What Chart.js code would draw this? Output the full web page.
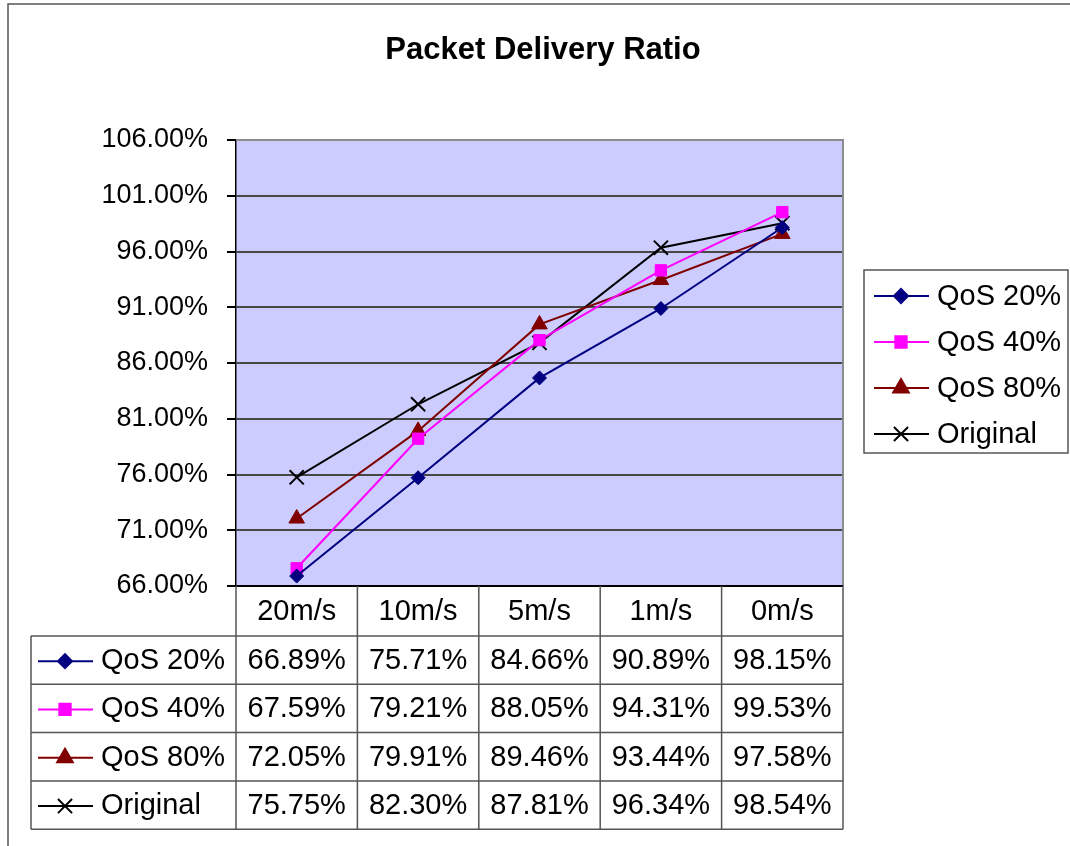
<!DOCTYPE html>
<html>
<head>
<meta charset="utf-8">
<script src="https://cdn.jsdelivr.net/npm/chart.js@4/dist/chart.umd.min.js"></script>
<style>
  html, body { margin: 0; padding: 0; background: #fff; }
  #wrap { width: 1070px; height: 846px; }
</style>
</head>
<body>
<div id="wrap"><canvas id="grafica"></canvas></div>
<script>
// datos de la grafica
const categorias = ['20m/s', '10m/s', '5m/s', '1m/s', '0m/s'];
const qos20 = [66.89, 75.71, 84.66, 90.89, 98.15];
const qos40 = [67.59, 79.21, 88.05, 94.31, 99.53];
const qos80 = [72.05, 79.91, 89.46, 93.44, 97.58];
const original = [75.75, 82.30, 87.81, 96.34, 98.54];
const ticksY = [66, 71, 76, 81, 86, 91, 96, 101, 106];
const titulo = 'Packet Delivery Ratio';

const fuente = '"Liberation Sans", Arial, Helvetica, sans-serif';

// dibuja la linea + marcador (leyenda y tabla)
function dibujarMuestra(ctx, ds, cx, cy) {
    ctx.save();
    ctx.strokeStyle = ds.borderColor;
    ctx.lineWidth = 2;
    ctx.beginPath();
    ctx.moveTo(cx - 27, cy);
    ctx.lineTo(cx + 28, cy);
    ctx.stroke();
    ctx.fillStyle = ds.pointBackgroundColor;
    ctx.strokeStyle = ds.pointBorderColor;
    Chart.helpers.drawPoint(ctx, {
        pointStyle: ds.pointStyle,
        radius: ds.pointRadius,
        rotation: 0,
        borderWidth: ds.pointBorderWidth
    }, cx, cy);
    ctx.restore();
}

const pluginExtra = {
    id: 'extra',
    beforeDraw(chart) {
        const { ctx, chartArea: a } = chart;
        ctx.save();
        ctx.fillStyle = '#fff';
        ctx.fillRect(0, 0, chart.width, chart.height);
        ctx.fillStyle = '#CCCCFF';
        ctx.fillRect(a.left, a.top, a.right - a.left, a.bottom - a.top);
        ctx.restore();
    },
    beforeDatasetsDraw(chart) {
        const { ctx, chartArea: a } = chart;
        ctx.save();
        ctx.strokeStyle = '#8c8c8c';
        ctx.lineWidth = 2;
        ctx.beginPath();
        ctx.moveTo(a.left, a.top);
        ctx.lineTo(a.right, a.top);
        ctx.lineTo(a.right, a.bottom);
        ctx.stroke();
        ctx.strokeStyle = '#000';
        ctx.beginPath();
        ctx.moveTo(a.left, a.bottom);
        ctx.lineTo(a.right, a.bottom);
        ctx.stroke();
        ctx.restore();
    },
    afterDraw(chart) {
        const { ctx, chartArea: a } = chart;
        const xs = chart.scales.x;
        const dsets = chart.data.datasets;
        ctx.save();

        // marco exterior
        ctx.strokeStyle = '#555';
        ctx.lineWidth = 1.5;
        ctx.strokeRect(8, 4, 1200, 1200);

        // titulo
        ctx.fillStyle = '#000';
        ctx.font = 'bold 31px ' + fuente;
        ctx.textAlign = 'center';
        ctx.textBaseline = 'middle';
        ctx.fillText(titulo, 543, 50);

        // leyenda
        ctx.strokeStyle = '#555';
        ctx.lineWidth = 1.5;
        ctx.strokeRect(864, 270, 204, 183);
        ctx.font = '29px ' + fuente;
        ctx.textAlign = 'left';
        dsets.forEach((ds, i) => {
            const y = 296 + i * 46;
            dibujarMuestra(ctx, ds, 901, y);
            ctx.fillStyle = '#000';
            ctx.fillText(ds.label, 937, y + 1);
        });

        // tabla de datos
        const n = categorias.length;
        const w = (a.right - a.left) / n;
        const yTop = a.bottom;
        const yHead = yTop + 50;
        const altoFila = 48.3;
        const yBottom = yHead + altoFila * dsets.length;
        const xIzq = 31;

        ctx.strokeStyle = '#555';
        ctx.lineWidth = 1.5;
        ctx.beginPath();
        for (let k = 0; k <= n; k++) {
            const x = a.left + k * w;
            ctx.moveTo(x, yTop);
            ctx.lineTo(x, yBottom);
        }
        ctx.moveTo(xIzq, yHead);
        ctx.lineTo(xIzq, yBottom);
        for (let r = 0; r <= dsets.length; r++) {
            const y = yHead + r * altoFila;
            ctx.moveTo(xIzq, y);
            ctx.lineTo(a.right, y);
        }
        ctx.stroke();

        ctx.fillStyle = '#000';
        ctx.font = '29px ' + fuente;
        ctx.textAlign = 'center';
        categorias.forEach((c, i) => {
            ctx.fillText(c, xs.getPixelForValue(i), yTop + 26);
        });
        dsets.forEach((ds, r) => {
            const yc = yHead + r * altoFila + altoFila / 2 + 1;
            dibujarMuestra(ctx, ds, 65, yc);
            ctx.fillStyle = '#000';
            ctx.textAlign = 'left';
            ctx.fillText(ds.label, 101, yc);
            ctx.textAlign = 'center';
            ds.data.forEach((v, i) => {
                ctx.fillText(v.toFixed(2) + '%', xs.getPixelForValue(i), yc);
            });
        });
        ctx.restore();
    }
};

function serie(label, data, color, estilo, radio, bw) {
    return {
        label: label,
        data: data,
        borderColor: color,
        backgroundColor: color,
        borderWidth: 2,
        pointStyle: estilo,
        pointRadius: radio,
        pointHoverRadius: radio,
        pointBackgroundColor: color,
        pointBorderColor: color,
        pointBorderWidth: bw,
        tension: 0
    };
}

new Chart(document.getElementById('grafica'), {
    type: 'line',
    data: {
        labels: categorias,
        datasets: [
            serie('QoS 20%', qos20, '#000080', 'rectRot', 7, 1),
            serie('QoS 40%', qos40, '#FF00FF', 'rect', 8, 1),
            serie('QoS 80%', qos80, '#800000', 'triangle', 9, 1),
            serie('Original', original, '#000000', 'crossRot', 10, 2)
        ]
    },
    options: {
        responsive: true,
        maintainAspectRatio: false,
        animation: false,
        layout: { padding: { left: 0, top: 140, right: 227, bottom: 260 } },
        plugins: {
            legend: { display: false },
            title: { display: false },
            tooltip: { enabled: false }
        },
        scales: {
            x: {
                type: 'category',
                offset: true,
                display: false
            },
            y: {
                min: 66,
                max: 106,
                afterFit(scale) { scale.width = 236; },
                afterBuildTicks(scale) {
                    scale.ticks = ticksY.map(v => ({ value: v }));
                },
                border: { display: true, color: '#000', width: 1.5 },
                grid: {
                    color: '#474747',
                    lineWidth: 2,
                    tickColor: '#000',
                    tickLength: 9
                },
                ticks: {
                    color: '#000',
                    padding: 19,
                    font: { family: fuente, size: 27 },
                    callback: v => v.toFixed(2) + '%'
                }
            }
        }
    },
    plugins: [pluginExtra]
});
</script>
</body>
</html>
